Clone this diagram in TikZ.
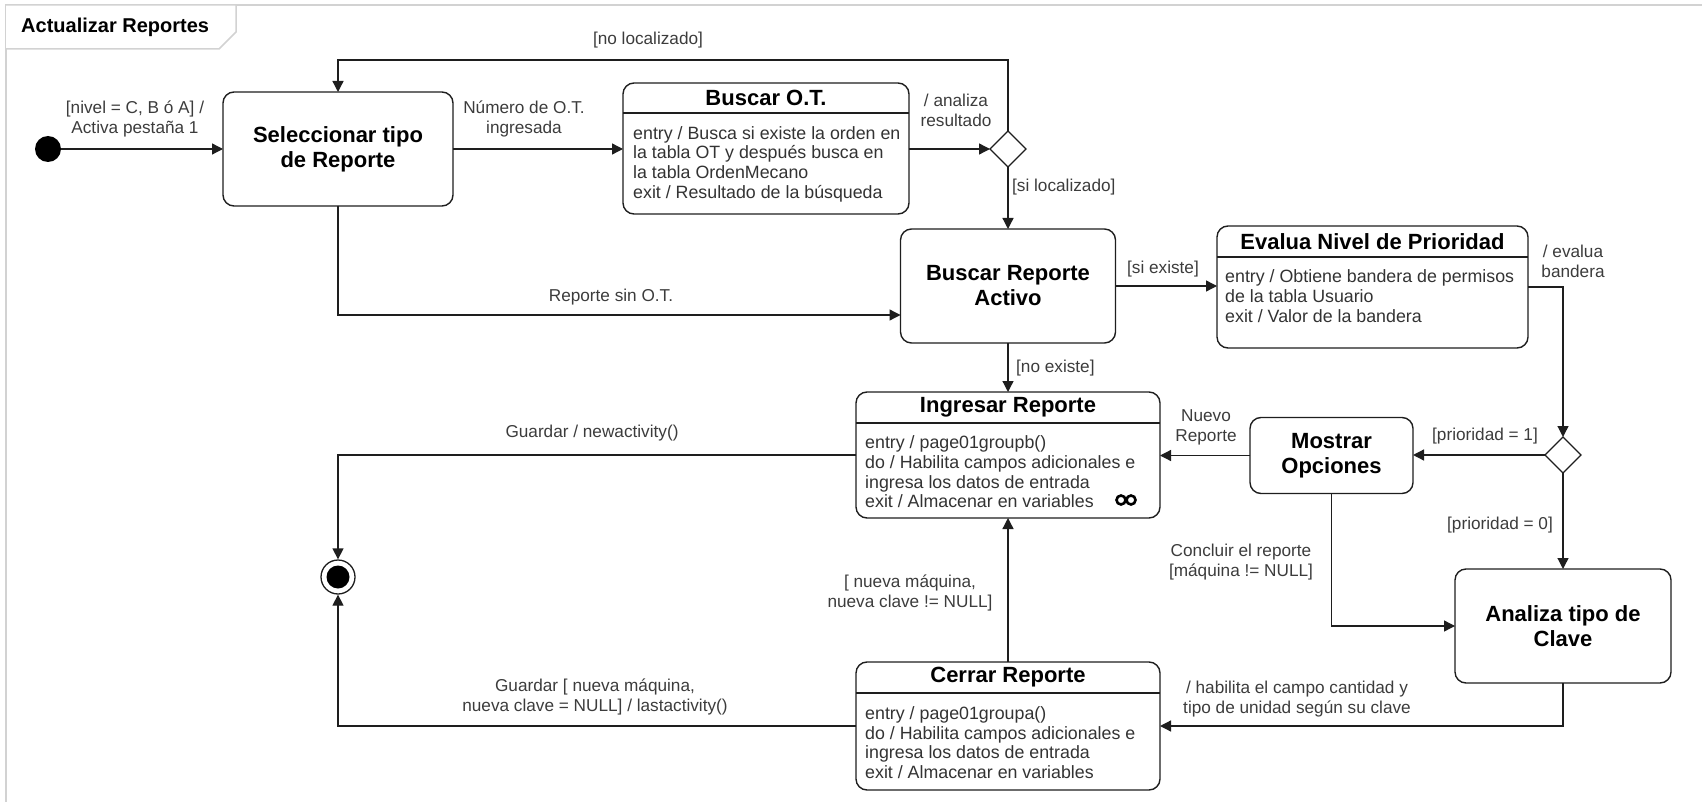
\documentclass[tikz,border=0pt]{standalone}
\usepackage{fontspec}
\setmainfont{Liberation Sans}
\usetikzlibrary{arrows.meta,shapes.geometric,calc}
\definecolor{ink}{HTML}{1E1E1E}
\definecolor{txt}{HTML}{333333}
\definecolor{lbl}{HTML}{3C3C3C}
\definecolor{framecol}{HTML}{D2D2D2}

\begin{document}
\begin{tikzpicture}[x=1pt,y=-1pt,
  state/.style={draw=ink, line width=1.4pt, rounded corners=11pt, fill=white,
                inner sep=0pt, outer sep=0pt},
  bigtitle/.style={font=\fontsize{22}{25}\selectfont\bfseries, text=black, align=center},
  cmptitle/.style={font=\fontsize{22}{25}\selectfont\bfseries, text=black, inner sep=0pt},
  body/.style={font=\fontsize{17.8}{19.7}\selectfont, text=txt, align=left,
               inner sep=0pt, anchor=west},
  lab/.style={font=\fontsize{17.2}{20}\selectfont, text=lbl, align=center, inner sep=0pt},
  flow/.style={draw=ink, line width=1.3pt, -{Triangle[length=11pt,width=11pt]}},
  choice/.style={draw=ink, line width=1.3pt, diamond, fill=white, minimum width=36pt,
                 minimum height=36pt, inner sep=0pt, outer sep=0pt},
]
\useasboundingbox (0,0) rectangle (1702,802);

% frame with its name tab
\draw[framecol, line width=1.5pt] (6,802) -- (6,5) -- (1702,5);
\draw[framecol, line width=1.5pt, fill=white] (6,5) -- (236,5) -- (236,32) -- (219,49) -- (6,49);
\node[font=\fontsize{20}{24}\selectfont\bfseries, text=black, anchor=west, inner sep=0pt]
  (frametitle) at (21,27) {Actualizar Reportes};

% initial and final pseudo-states
\node[circle, fill=black, minimum size=26pt, inner sep=0pt] (init) at (48,149) {};
\node[circle, draw=ink, line width=1.3pt, fill=white, minimum size=34pt, inner sep=0pt,
  path picture={\fill[black] (path picture bounding box.center) circle (11.5pt);}]
  (fin) at (338,577) {};

% simple states
\node[state, bigtitle, minimum width=230pt, minimum height=114pt] (sel) at (338,149)
  {Seleccionar tipo\\de Reporte};
\node[state, bigtitle, minimum width=215pt, minimum height=114pt] (bra) at (1008,286)
  {Buscar Reporte\\Activo};
\node[state, bigtitle, minimum width=163pt, minimum height=76pt] (mo) at (1331.5,455.5)
  {Mostrar\\Opciones};
\node[state, bigtitle, minimum width=216pt, minimum height=114pt] (an) at (1563,626)
  {Analiza tipo de\\Clave};

% states with an activity compartment
\node[state, minimum width=286pt, minimum height=131pt] (ot) at (766,148.5) {};
\draw[ink, line width=1.4pt] ([yshift=-30pt]ot.north west) -- ([yshift=-30pt]ot.north east);
\node[cmptitle] (ott) at ([yshift=-15pt]ot.north) {Buscar O.T.};
\node[body] (otb) at (633,164) {entry / Busca si existe la orden en\\la tabla OT y después busca en\\la tabla OrdenMecano\\exit / Resultado de la búsqueda};

\node[state, minimum width=311pt, minimum height=122pt] (ev) at (1372.5,287) {};
\draw[ink, line width=1.4pt] ([yshift=-31pt]ev.north west) -- ([yshift=-31pt]ev.north east);
\node[cmptitle] (evt) at ([yshift=-15.5pt]ev.north) {Evalua Nivel de Prioridad};
\node[body] (evb) at (1225,296) {entry / Obtiene bandera de permisos\\de la tabla Usuario\\exit / Valor de la bandera};

\node[state, minimum width=304pt, minimum height=126pt] (ing) at (1008,455) {};
\draw[ink, line width=1.4pt] ([yshift=-31pt]ing.north west) -- ([yshift=-31pt]ing.north east);
\node[cmptitle] (ingt) at ([yshift=-15.5pt]ing.north) {Ingresar Reporte};
\node[body] (ingb) at (865,472) {entry / page01groupb()\\do / Habilita campos adicionales e\\ingresa los datos de entrada\\exit / Almacenar en variables};
% sub-machine mark
\draw[black, line width=2.6pt] (1121,500) circle (4.5pt) (1131,500) circle (4.5pt);

\node[state, minimum width=304pt, minimum height=128pt] (ce) at (1008,726) {};
\draw[ink, line width=1.4pt] ([yshift=-31pt]ce.north west) -- ([yshift=-31pt]ce.north east);
\node[cmptitle] (cet) at ([yshift=-15.5pt]ce.north) {Cerrar Reporte};
\node[body] (ceb) at (865,742.5) {entry / page01groupa()\\do / Habilita campos adicionales e\\ingresa los datos de entrada\\exit / Almacenar en variables};

% choice points
\node[choice] (d1) at (1008,149) {};
\node[choice] (d2) at (1563,455) {};

% transitions
\coordinate (loopR) at (1008,60);
\draw[flow] (init) -- (sel.west);
\draw[flow] (sel.east) -- (sel.east -| ot.west);
\draw[flow] (ot.east |- d1) -- (d1.west);
\draw[flow] (d1.north) -- (loopR) -| (sel.north);
\draw[flow] (d1.south) -- (bra.north);
\draw[flow] (sel.south) |- ([yshift=-29pt]bra.west);
\draw[flow] (bra.east) -- (bra.east -| ev.west);
\draw[flow] (bra.south) -- (ing.north);
\draw[flow] (ev.east) -| (d2.north);
\draw[flow] (d2.west) -- (d2.west -| mo.east);
\draw[flow] (mo.west) -- (mo.west -| ing.east);
\draw[flow] (d2.south) -- (an.north);
\draw[flow] (mo.south) |- (an.west);
\draw[flow] (an.south) |- (ce.east);
\draw[flow] (ce.north) -- (ing.south);
\draw[flow] (ce.west) -| (fin.south);
\draw[flow] (ing.west) -| (fin.north);

% transition labels
\node[lab] (l1) at (135,118.5) {[nivel = C, B ó A] /\\Activa pestaña 1};
\node[lab] (l2) at (524,119) {Número de O.T.\\ingresada};
\node[lab] (l3) at (648,40) {[no localizado]};
\node[lab] (l4) at (956,110.5) {/ analiza\\resultado};
\node[lab, anchor=west] (l5) at (1012,187) {[si localizado]};
\node[lab] (l6) at (611,297) {Reporte sin O.T.};
\node[lab] (l7) at (1163,269) {[si existe]};
\node[lab, anchor=west] (l8) at (1016,368) {[no existe]};
\node[lab] (l9) at (1573,261) {/ evalua\\bandera};
\node[lab] (l10) at (1485,436) {[prioridad = 1]};
\node[lab] (l11) at (1206,427) {Nuevo\\Reporte};
\node[lab] (l12) at (1500,525) {[prioridad = 0]};
\node[lab] (l13) at (1241,562) {Concluir el reporte\\{[}máquina != NULL{]}};
\node[lab] (l14) at (1297,699.5) {/ habilita el campo cantidad y\\tipo de unidad según su clave};
\node[lab] (l15) at (910,593) {[ nueva máquina,\\nueva clave != NULL]};
\node[lab] (l16) at (592,433) {Guardar / newactivity()};
\node[lab] (l17) at (595,697) {Guardar [ nueva máquina,\\nueva clave = NULL] / lastactivity()};
\end{tikzpicture}
\end{document}
